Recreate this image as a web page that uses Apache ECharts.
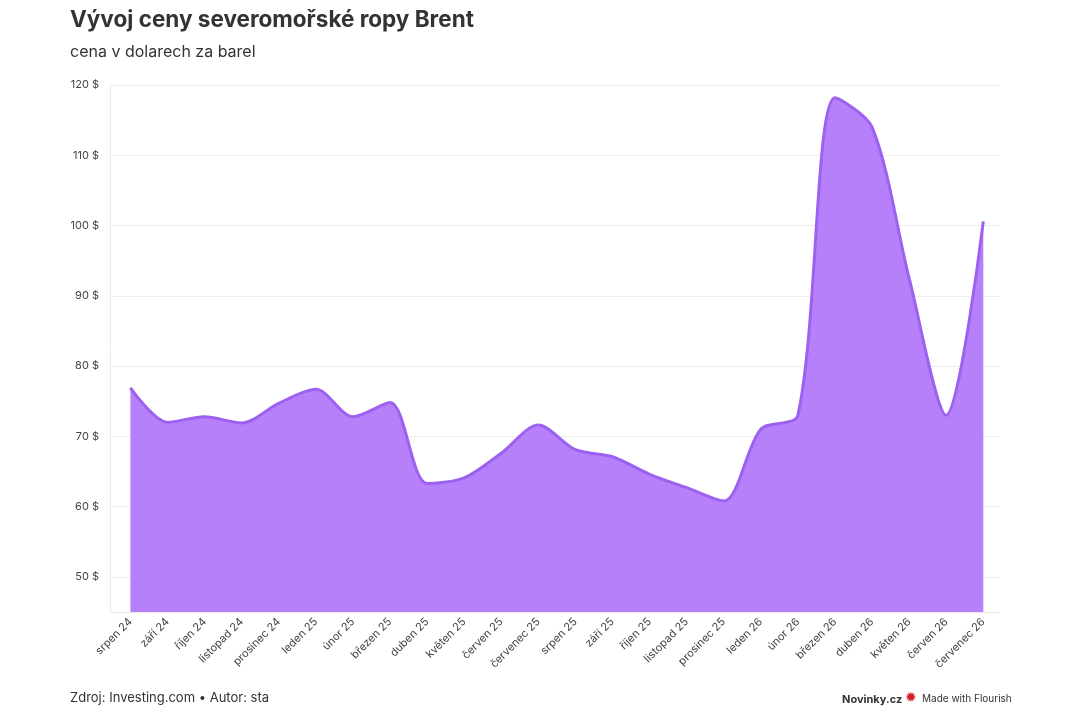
<!DOCTYPE html>
<html>
<head>
<meta charset="utf-8">
<script src="https://cdn.jsdelivr.net/npm/echarts@6/dist/echarts.min.js"></script>
<style>
  html, body { margin: 0; padding: 0; background: #fff; }
  #chart { width: 1080px; height: 720px; }
</style>
</head>
<body>
<div id="chart"></div>
<script>
var months = ['srpen 24', 'září 24', 'říjen 24', 'listopad 24', 'prosinec 24', 'leden 25',
  'únor 25', 'březen 25', 'duben 25', 'květen 25', 'červen 25', 'červenec 25',
  'srpen 25', 'září 25', 'říjen 25', 'listopad 25', 'prosinec 25', 'leden 26',
  'únor 26', 'březen 26', 'duben 26', 'květen 26', 'červen 26', 'červenec 26'];
var prices = [76.9, 72.0, 72.8, 71.9, 74.7, 76.7,
  72.8, 74.8, 63.3, 64.1, 67.6, 71.6,
  68.1, 67.1, 64.6, 62.7, 60.8, 71.0,
  73.0, 118.2, 114.0, 92.5, 73.0, 100.6];
var yTicks = [50, 60, 70, 80, 90, 100, 110, 120];

var font = 'Inter, "Noto Sans", sans-serif';

var chart = echarts.init(document.getElementById('chart'));

chart.setOption({
  animation: false,
  backgroundColor: '#fff',
  textStyle: { fontFamily: font },
  grid: { left: 110, right: 80, top: 85, bottom: 108 },
  graphic: [
    { type: 'text', left: 70, top: 9,
      style: { text: 'Vývoj ceny severomořské ropy Brent', font: 'bold 22.5px ' + font, fill: '#333' } },
    { type: 'text', left: 70, top: 44,
      style: { text: 'cena v dolarech za barel', font: '16px ' + font, fill: '#333' } },
    { type: 'text', left: 70, top: 692,
      style: { text: 'Zdroj: Investing.com • Autor: sta', font: '13px ' + font, fill: '#333' } },
    { type: 'text', left: 842, top: 694,
      style: { text: 'Novinky.cz', font: 'bold 11px ' + font, fill: '#333' } },
    { type: 'text', left: 905, top: 691,
      style: { text: '✹', font: '14px "DejaVu Sans"', fill: '#d4202c' } },
    { type: 'text', left: 922, top: 694,
      style: { text: 'Made with Flourish', font: '10px ' + font, fill: '#333' } }
  ],
  xAxis: {
    type: 'value',
    min: -0.55,
    max: 23.45,
    axisLine: { show: true, onZero: false, lineStyle: { color: '#ececec' } },
    axisTick: { show: false },
    splitLine: { show: false },
    axisLabel: {
      customValues: months.map(function (m, i) { return i; }),
      formatter: function (v) { return months[Math.round(v)]; },
      rotate: 45,
      color: '#444',
      fontSize: 11,
      margin: 8
    }
  },
  yAxis: {
    type: 'value',
    min: 45,
    max: 120,
    interval: 5,
    axisLine: { show: true, onZero: false, lineStyle: { color: '#ececec' } },
    axisTick: { show: false },
    splitLine: { show: true, lineStyle: { color: ['transparent', '#ededed'], width: 1 } },
    axisLabel: {
      formatter: function (v) { return yTicks.indexOf(v) >= 0 ? v + ' $' : ''; },
      color: '#444',
      fontSize: 11,
      margin: 11
    }
  },
  series: [{
    type: 'line',
    data: prices.map(function (p, i) { return [i, p]; }),
    smooth: 0.3,
    symbol: 'none',
    lineStyle: { color: '#9d61f2', width: 3 },
    areaStyle: { color: '#b580f9', opacity: 1 }
  }]
});
</script>
</body>
</html>
